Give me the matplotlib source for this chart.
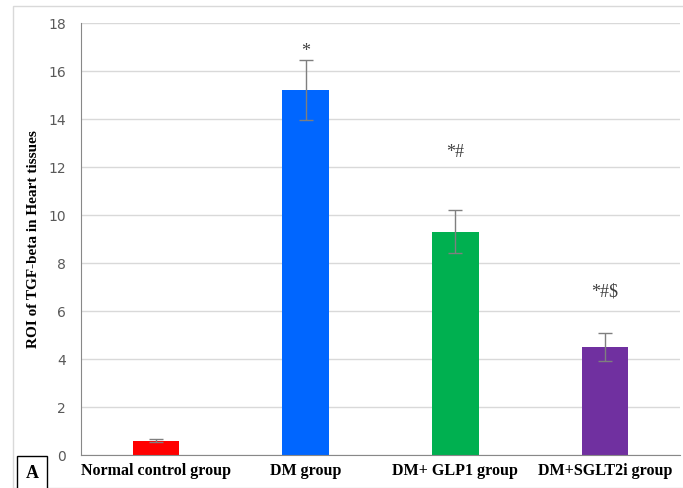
import matplotlib.pyplot as plt
from matplotlib.patches import Rectangle

groups = ['Normal control group', 'DM group', 'DM+ GLP1 group', 'DM+SGLT2i group']
means = [0.6, 15.2, 9.3, 4.5]
errors = [0.05, 1.25, 0.9, 0.6]
marks = ['', '*', '*#', '*#$']
mark_y = [0, 16.8, 12.6, 6.8]
colors = ['#FF0000', '#0066FF', '#00B050', '#7030A0']

fig = plt.figure(figsize=(6.83, 4.88), dpi=100)
ax = fig.add_axes([0.1186, 0.0676, 0.877, 0.885])

# outer frame
fig.patches.append(Rectangle((13/683, 0), 1, 1 - 6/488, transform=fig.transFigure,
                             fill=False, edgecolor='#d9d9d9', linewidth=1))

x = range(len(groups))
ax.bar(x, means, width=0.31, color=colors, zorder=2)
ax.errorbar(x, means, yerr=errors, fmt='none', ecolor='#7f7f7f', elinewidth=1,
            capsize=5, capthick=1, zorder=3)
for i, m in enumerate(marks):
    if m:
        ax.text(i, mark_y[i], m, ha='center', va='center', fontsize=13,
                family='Liberation Serif', color='#404040')

ax.set_xlim(-0.5, 3.5)
ax.set_ylim(0, 18)
ax.set_yticks(range(0, 19, 2))
ax.yaxis.grid(True, color='#d9d9d9', linewidth=1, zorder=0)
ax.set_axisbelow(True)
for s in ['top', 'right']:
    ax.spines[s].set_visible(False)
ax.spines['left'].set_color('#888888')
ax.spines['bottom'].set_color('#888888')
ax.tick_params(axis='y', length=0, labelsize=10, labelcolor='#595959', pad=11)
ax.tick_params(axis='x', length=0, pad=6)
ax.set_xticks(list(x))
ax.set_xticklabels(groups, fontsize=11.5, fontweight='bold', family='Liberation Serif')
ax.set_ylabel('ROI of TGF-beta in Heart tissues', fontsize=11, fontweight='bold',
              family='Liberation Serif')
ax.yaxis.set_label_coords(-0.068, 0.5)

fig.text(32/683, 1 - 473/488, 'A', ha='center', va='center', fontsize=13,
         fontweight='bold', family='Liberation Serif',
         bbox=dict(boxstyle='square,pad=0.45', facecolor='white', edgecolor='black', linewidth=1))

fig.savefig('out.png', dpi=100)
